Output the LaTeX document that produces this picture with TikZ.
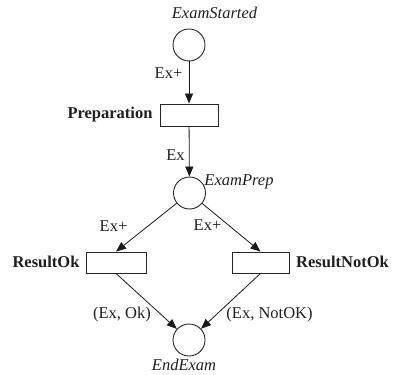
\documentclass[tikz,border=0pt]{standalone}
\usepackage{fontspec}
\setmainfont{Liberation Serif}
\usetikzlibrary{arrows.meta}
\begin{document}
\begin{tikzpicture}[x=1pt,y=-1pt,
  font=\fontsize{16.5}{18}\selectfont,
  every node/.style={text=black!88},
  place/.style={draw=black!85,line width=0.9pt,circle,minimum size=32pt,inner sep=0pt},
  trans/.style={draw=black!85,line width=0.9pt,rectangle,inner sep=0pt},
  arc/.style={draw=black!90,line width=0.8pt,-{Triangle[length=10pt,width=8pt]}},
  lbl/.style={inner sep=0pt},
  tname/.style={inner sep=0pt,font=\fontsize{16.5}{18}\selectfont\bfseries},
  pname/.style={inner sep=0pt,font=\fontsize{16.5}{18}\selectfont\itshape}]
\useasboundingbox (0,0) rectangle (395,374);

% places
\node[place] (started) at (189,45) {};
\node[place] (prep)    at (189.5,193) {};
\node[place] (endex)   at (189,340) {};

% transitions
\node[trans,minimum width=58pt,minimum height=22pt] (preparation) at (189,115) {};
\node[trans,minimum width=60pt,minimum height=21pt] (resok)       at (116,262.5) {};
\node[trans,minimum width=57pt,minimum height=21pt] (resnok)      at (260.5,262.5) {};

% place names
\node[pname] (lstarted) at (214.5,13) {ExamStarted};
\node[pname] (lprep)    at (239,182)  {ExamPrep};
\node[pname] (lendex)   at (184,365)  {EndExam};

% transition names
\node[tname] (lpreparation) at (110,115)   {Preparation};
\node[tname] (lresok)       at (46,262)    {ResultOk};
\node[tname] (lresnok)      at (342.5,262) {ResultNotOk};

% arcs
\draw[arc] (started) -- (preparation);
\draw[arc] (preparation) -- (prep);
\draw[arc] (prep) -- (resok.north);
\draw[arc] (prep) -- (resnok.north);
\draw[arc] (resok.south) -- (endex);
\draw[arc] (resnok.south) -- (endex);

% arc inscriptions
\node[lbl] (i1) at (168.5,73)  {Ex+};
\node[lbl] (i2) at (175.5,155) {Ex};
\node[lbl] (i3) at (113.5,226) {Ex+};
\node[lbl] (i4) at (207.5,225) {Ex+};
\node[lbl] (i5) at (122,315)   {(Ex, Ok)};
\node[lbl] (i6) at (269.5,315) {(Ex, NotOK)};
\end{tikzpicture}
\end{document}
